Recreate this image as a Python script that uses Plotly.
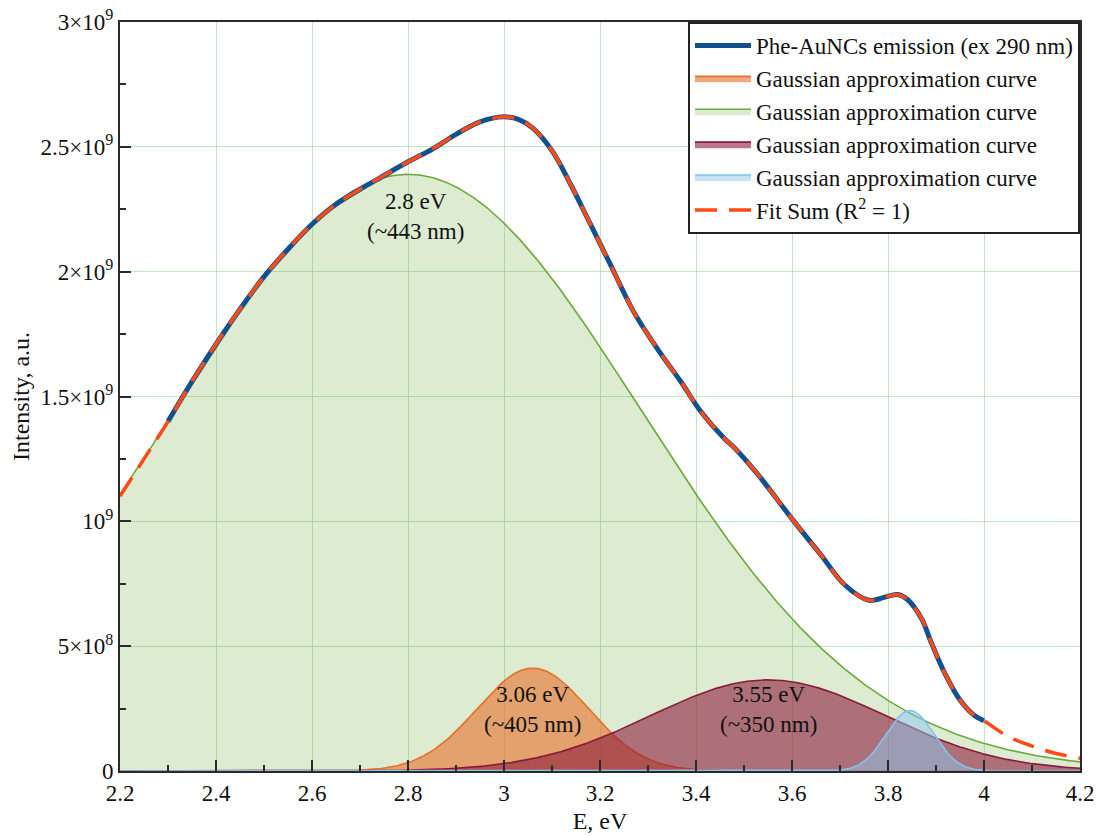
import numpy as np
import plotly.graph_objects as go

# ---- data ----
emission_x = [2.30, 2.35, 2.40, 2.45, 2.50, 2.55, 2.60, 2.65, 2.70, 2.75, 2.80, 2.85, 2.90,
              2.95, 3.00, 3.03, 3.06, 3.10, 3.14, 3.18, 3.22, 3.27, 3.32, 3.37, 3.41, 3.46,
              3.48, 3.53, 3.60, 3.66, 3.71, 3.76, 3.80, 3.82, 3.84, 3.87, 3.89, 3.92, 3.95,
              3.98, 4.00]
emission_y = [1.40, 1.56, 1.71, 1.85, 1.98, 2.09, 2.19, 2.27, 2.33, 2.385, 2.44, 2.49, 2.55,
              2.60, 2.62, 2.61, 2.575, 2.485, 2.345, 2.19, 2.035, 1.84, 1.69, 1.555, 1.44, 1.33,
              1.295, 1.185, 1.01, 0.866, 0.745, 0.684, 0.70, 0.707, 0.688, 0.61, 0.515, 0.385,
              0.284, 0.222, 0.201]

fit_x = [2.20, 2.25] + emission_x + [4.05, 4.10, 4.15, 4.20]
fit_y = [1.10, 1.25] + emission_y + [0.138, 0.100, 0.070, 0.051]

# Gaussian components: centre (eV), amplitude (x1e9), sigma (eV)
gauss_names = ["Gaussian approximation curve"] * 4
gauss_center = [2.80, 3.06, 3.55, 3.846]
gauss_amp = [2.39, 0.412, 0.365, 0.242]
gauss_sigma = [0.484, 0.116, 0.245, 0.050]
gauss_line = ["#6aaa3a", "#e8702a", "#8b1a3a", "#86c2ef"]
gauss_fill = ["rgba(106,170,58,0.23)", "rgba(232,112,42,0.60)",
              "rgba(139,26,58,0.59)", "rgba(140,200,242,0.50)"]
gauss_rank = [3, 2, 4, 5]

labels_text = ["2.8 eV<br>(~443 nm)", "3.06 eV<br>(~405 nm)", "3.55 eV<br>(~350 nm)"]
labels_x = [2.815, 3.06, 3.55]
labels_y = [2.22, 0.245, 0.245]

xtick_vals = [2.2, 2.4, 2.6, 2.8, 3.0, 3.2, 3.4, 3.6, 3.8, 4.0, 4.2]
xtick_text = ["2.2", "2.4", "2.6", "2.8", "3", "3.2", "3.4", "3.6", "3.8", "4", "4.2"]
ytick_vals = [0, 0.5e9, 1e9, 1.5e9, 2e9, 2.5e9, 3e9]
ytick_text = ["0", "5×10<sup>8</sup>", "10<sup>9</sup>", "1.5×10<sup>9</sup>",
              "2×10<sup>9</sup>", "2.5×10<sup>9</sup>", "3×10<sup>9</sup>"]

FONT = "Liberation Serif"
FS = 23

fig = go.Figure()

xs = np.linspace(2.2, 4.2, 801)
for c, a, s, lc, fc, rk, nm in zip(gauss_center, gauss_amp, gauss_sigma, gauss_line,
                                   gauss_fill, gauss_rank, gauss_names):
    ys = a * 1e9 * np.exp(-(xs - c) ** 2 / (2 * s ** 2))
    fig.add_trace(go.Scatter(x=xs, y=ys, mode="lines", name=nm, fill="tozeroy",
                             fillcolor=fc, line=dict(color=lc, width=1.6),
                             legendrank=rk, hoverinfo="skip"))

fig.add_trace(go.Scatter(x=emission_x, y=[v * 1e9 for v in emission_y], mode="lines",
                         name="Phe-AuNCs emission (ex 290 nm)", line_shape="spline",
                         line=dict(color="#13508e", width=5), legendrank=1))
fig.add_trace(go.Scatter(x=fit_x, y=[v * 1e9 for v in fit_y], mode="lines",
                         name="Fit Sum (R<sup>2</sup> = 1)", line_shape="spline",
                         line=dict(color="#ff4a14", width=3.5, dash="22px,12px"),
                         legendrank=6))

for t, x, y in zip(labels_text, labels_x, labels_y):
    fig.add_annotation(x=x, y=y * 1e9, text=t, showarrow=False,
                       font=dict(family=FONT, size=FS, color="#111"))

axis_common = dict(showline=True, linecolor="#2a2a2a", linewidth=2, mirror=True,
                   ticks="inside", ticklen=11, tickwidth=2, tickcolor="#2a2a2a",
                   showgrid=True, gridcolor="rgba(120,200,120,0.45)", gridwidth=1,
                   zeroline=False, tickfont=dict(family=FONT, size=FS, color="#111"))

fig.update_xaxes(range=[2.2, 4.2], tickvals=xtick_vals, ticktext=xtick_text,
                 title=dict(text="E, eV", font=dict(family=FONT, size=24, color="#111"),
                            standoff=8),
                 minor=dict(ticks="inside", ticklen=6, tickwidth=1.5, tickcolor="#2a2a2a",
                            dtick=0.1, tick0=2.2, showgrid=False),
                 **axis_common)
fig.update_yaxes(range=[0, 3e9], tickvals=ytick_vals, ticktext=ytick_text,
                 title=dict(text="Intensity, a.u.", font=dict(family=FONT, size=24, color="#111"),
                            standoff=4),
                 minor=dict(ticks="inside", ticklen=6, tickwidth=1.5, tickcolor="#2a2a2a",
                            dtick=2.5e8, tick0=0, showgrid=False),
                 **axis_common)

fig.update_layout(
    width=1096, height=836,
    margin=dict(l=120, r=16, t=22, b=65, autoexpand=False),
    paper_bgcolor="white", plot_bgcolor="white",
    font=dict(family=FONT, color="#111"),
    showlegend=True,
    legend=dict(x=1, y=1, xanchor="right", yanchor="top", bgcolor="white",
                bordercolor="#222", borderwidth=2, itemwidth=56,
                font=dict(family=FONT, size=FS, color="#111"),
                tracegroupgap=0),
)

fig.write_html("out.html")
